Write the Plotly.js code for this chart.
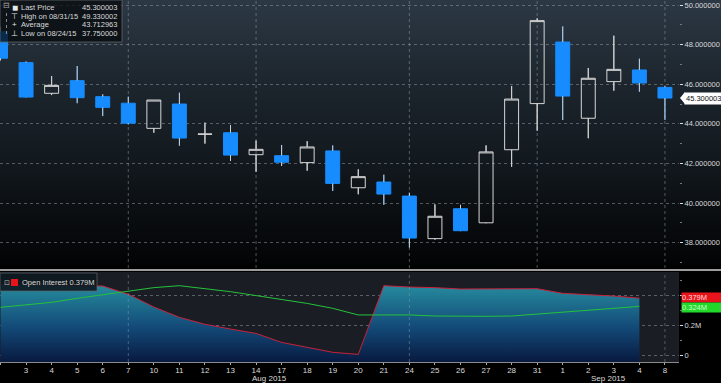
<!DOCTYPE html>
<html><head><meta charset="utf-8">
<script src="https://cdn.plot.ly/plotly-3.0.1.min.js"></script>
<style>
html,body{margin:0;padding:0;background:#000;}
#chart{width:721px;height:383px;background:linear-gradient(to bottom,#2c3844 0px,#1d262e 80px,#11171c 170px,#030405 262px,#000 268px,#000 383px);}
</style></head><body><div id="chart"></div>
<script>
// ---- data ----
const dates = ['2015-07-31','2015-08-03','2015-08-04','2015-08-05','2015-08-06','2015-08-07','2015-08-10','2015-08-11','2015-08-12','2015-08-13','2015-08-14','2015-08-17','2015-08-18','2015-08-19','2015-08-20','2015-08-21','2015-08-24','2015-08-25','2015-08-26','2015-08-27','2015-08-28','2015-08-31','2015-09-01','2015-09-02','2015-09-03','2015-09-04','2015-09-08'];
const dayLabels = ['','3','4','5','6','7','10','11','12','13','14','17','18','19','20','21','24','25','26','27','28','31','1','2','3','4','8'];
const openP  = [48.65,47.09,45.54,46.18,45.37,45.04,43.77,45.00,43.47,43.55,42.44,42.39,42.04,42.63,40.77,41.06,40.35,38.20,39.71,39.00,42.69,45.02,48.13,44.28,46.13,46.72,45.84];
const highP  = [48.90,47.15,46.41,46.92,45.49,45.37,45.20,45.57,44.06,43.94,43.15,42.93,43.12,42.91,41.70,41.43,40.52,39.93,39.91,42.91,45.91,49.33,48.92,46.82,48.45,47.29,45.90];
const lowP   = [47.20,45.33,45.45,45.04,44.39,43.97,43.55,42.89,43.00,42.12,41.58,41.87,41.63,40.61,40.44,39.91,37.75,38.15,38.58,38.98,41.83,43.65,44.19,43.27,45.67,45.62,44.20];
const closeP = [47.31,45.35,45.94,45.32,44.83,44.03,45.20,43.28,43.48,42.42,42.71,42.06,42.83,40.99,41.33,40.45,38.23,39.33,38.60,42.58,45.25,49.21,45.40,46.30,46.75,46.06,45.30];
const openInterest = [0.470,0.470,0.466,0.462,0.460,0.405,0.320,0.251,0.205,0.173,0.144,0.084,0.049,0.018,0.004,0.462,0.453,0.449,0.440,0.442,0.444,0.442,0.411,0.404,0.393,0.379];
const oiAverage    = [0.318,0.333,0.351,0.378,0.400,0.427,0.449,0.462,0.444,0.422,0.396,0.371,0.344,0.311,0.267,0.267,0.267,0.260,0.258,0.258,0.260,0.273,0.284,0.296,0.311,0.324];
const legendNames  = ['Last Price','High on 08/31/15','Average','Low on 08/24/15'];
const legendValues = ['45.300003','49.330002','43.712963','37.750000'];
const legendIcons  = ['■','⊤','+','⊥'];
const oiLegend = 'Open Interest 0.379M';
const oiTickVals = [0,0.2,0.4];
const oiTickText = ['0','0.2M','0.4M'];
const monthLabels = ['Aug 2015','Sep 2015'];
const gridDatesMain = ['2015-08-07','2015-08-14','2015-08-24','2015-08-31','2015-09-08'];
const gridDatesLow  = ['2015-08-07','2015-08-24','2015-09-08'];

// ---- helpers (pixel -> paper) ----
const W = 679, H = 362;
const px = x => x / W, py = y => 1 - y / H;
const FONT = 'Liberation Sans, Arial, sans-serif';
const TXT = '#dadada';

// wick segments outside the bodies
const wx = [], wy = [];
dates.forEach((d, i) => {
  const top = Math.max(openP[i], closeP[i]), bot = Math.min(openP[i], closeP[i]);
  wx.push(d, d, null, d, d, null);
  wy.push(highP[i], top, null, bot, lowP[i], null);
});
const oiDates = dates.slice(0, openInterest.length);
const yLow = -0.0467;

const traces = [
  {type:'candlestick', x:dates, open:openP, high:highP, low:lowP, close:closeP, xaxis:'x', yaxis:'y',
   line:{width:1}, whiskerwidth:0,
   increasing:{line:{color:'#d6d6d6', width:1}, fillcolor:'rgba(0,0,0,0)'},
   decreasing:{line:{color:'#168cff', width:1}, fillcolor:'#168cff'},
   hoverinfo:'skip', showlegend:false},
  {type:'scatter', mode:'lines', x:wx, y:wy, xaxis:'x', yaxis:'y', line:{color:'#d0d0d0', width:1},
   hoverinfo:'skip', showlegend:false},
  {type:'scatter', mode:'lines', x:oiDates, y:oiDates.map(() => yLow), xaxis:'x2', yaxis:'y2',
   line:{width:0, color:'rgba(0,0,0,0)'}, hoverinfo:'skip', showlegend:false},
  {type:'scatter', mode:'lines', x:oiDates, y:openInterest, xaxis:'x2', yaxis:'y2', fill:'tonexty',
   fillgradient:{type:'vertical', start:yLow, stop:0.47,
     colorscale:[[0,'#081a40'],[0.45,'#134a78'],[1,'#268c9e']]},
   line:{color:'#c8203a', width:1}, hoverinfo:'skip', showlegend:false},
  {type:'scatter', mode:'lines', x:oiDates, y:oiAverage, xaxis:'x2', yaxis:'y2',
   line:{color:'#25c23c', width:1}, hoverinfo:'skip', showlegend:false}
];

const shapes = [];
shapes.push({type:'rect', xref:'x2 domain', yref:'y2 domain', x0:0, x1:1, y0:0, y1:1,
  fillcolor:'#1a1e24', line:{width:0}, layer:'below'});
shapes.push({type:'line', xref:'paper', yref:'paper', x0:0, x1:721/W, y0:py(270), y1:py(270),
  line:{color:'#9c9c9c', width:2}});
gridDatesMain.forEach(d => shapes.push({type:'line', xref:'x', yref:'y domain', x0:dates.indexOf(d), x1:dates.indexOf(d), y0:0, y1:1,
  line:{color:'rgba(150,160,170,0.5)', width:1, dash:'dot'}, layer:'below'}));
gridDatesLow.forEach(d => shapes.push({type:'line', xref:'x2', yref:'y2 domain', x0:dates.indexOf(d), x1:dates.indexOf(d), y0:0, y1:1,
  line:{color:'rgba(150,160,170,0.45)', width:1, dash:'dot'}}));
shapes.push({type:'rect', xref:'paper', yref:'paper', x0:0, x1:px(122), y0:py(42), y1:py(0),
  fillcolor:'rgba(4,7,10,0.72)', line:{color:'rgba(95,100,105,0.8)', width:1}});
shapes.push({type:'rect', xref:'paper', yref:'paper', x0:0, x1:px(97), y0:py(291), y1:py(273),
  fillcolor:'rgba(14,24,32,0.9)', line:{color:'rgba(95,100,105,0.7)', width:1}});
shapes.push({type:'line', xref:'paper', yref:'paper', x0:px(6.5), x1:px(6.5), y0:py(34), y1:py(10),
  line:{color:'#8a8a8a', width:1, dash:'dot'}});
shapes.push({type:'rect', xref:'paper', yref:'paper', x0:px(11), x1:px(18), y0:py(286), y1:py(279),
  fillcolor:'#e8141c', line:{width:0}});
shapes.push({type:'path', xref:'paper', yref:'y', xsizemode:'pixel', ysizemode:'pixel',
  xanchor:1, yanchor:closeP[closeP.length-1], path:'M 1 0 L 6 -6 L 6 6 Z', fillcolor:'#ffffff', line:{width:0}});

const ann = [];
const fnt = (s, c) => ({family:FONT, size:s, color:c});
legendNames.forEach((n, i) => {
  const y = py(7 + i * 9);
  ann.push({xref:'paper', yref:'paper', x:px(19), y:y, xanchor:'left', yanchor:'middle', text:n, showarrow:false, font:fnt(7.5, TXT)});
  ann.push({xref:'paper', yref:'paper', x:px(119), y:y, xanchor:'right', yanchor:'middle', text:legendValues[i], showarrow:false, font:fnt(7.5, TXT)});
  ann.push({xref:'paper', yref:'paper', x:px(14.5), y:y, xanchor:'center', yanchor:'middle', text:legendIcons[i], showarrow:false, font:fnt(i === 0 ? 10 : 8, '#e6e6e6')});
});
ann.push({xref:'paper', yref:'paper', x:px(6.5), y:py(5), xanchor:'center', yanchor:'middle', text:'⊟', showarrow:false, font:fnt(8, '#aaaaaa')});
ann.push({xref:'paper', yref:'paper', x:px(6.5), y:py(282.5), xanchor:'center', yanchor:'middle', text:'⊡', showarrow:false, font:fnt(7, '#bbbbbb')});
ann.push({xref:'paper', yref:'paper', x:px(20), y:py(282.5), xanchor:'left', yanchor:'middle', text:oiLegend, showarrow:false, font:fnt(7.5, TXT)});
ann.push({xref:'paper', yref:'y', x:px(684), y:closeP[closeP.length-1], xanchor:'left', yanchor:'middle', text:legendValues[0],
  showarrow:false, bgcolor:'#ffffff', font:fnt(7.5, '#111111'), borderpad:1, width:35, align:'left'});
ann.push({xref:'paper', yref:'y2', x:px(680.5), y:openInterest[openInterest.length-1], xanchor:'left', yanchor:'middle', yshift:1,
  text:openInterest[openInterest.length-1].toFixed(3) + 'M', showarrow:false, bgcolor:'#e8141c', font:fnt(7.5, '#ffdede'), borderpad:0, width:39, align:'left'});
ann.push({xref:'paper', yref:'y2', x:px(680.5), y:oiAverage[oiAverage.length-1], xanchor:'left', yanchor:'middle', yshift:-1.5,
  text:oiAverage[oiAverage.length-1].toFixed(3) + 'M', showarrow:false, bgcolor:'#22d82a', font:fnt(7.5, '#c8ffc8'), borderpad:0, width:39, align:'left'});
ann.push({xref:'paper', yref:'paper', x:px(269), y:py(378), xanchor:'center', yanchor:'middle', text:monthLabels[0], showarrow:false, font:fnt(8, TXT)});
ann.push({xref:'paper', yref:'paper', x:px(608), y:py(378), xanchor:'center', yanchor:'middle', text:monthLabels[1], showarrow:false, font:fnt(8, TXT)});

const xRange = [-0.02, 26.55];
const layout = {
  width:721, height:383, margin:{l:0, r:42, t:0, b:21},
  paper_bgcolor:'rgba(0,0,0,0)', plot_bgcolor:'rgba(0,0,0,0)',
  showlegend:false, boxgap:0.22, dragmode:false,
  font:{family:FONT, size:8, color:TXT},
  xaxis:{type:'category', categoryorder:'array', categoryarray:dates, range:xRange, anchor:'y',
    showticklabels:false, showgrid:false, zeroline:false, ticks:'', rangeslider:{visible:false}, fixedrange:true},
  yaxis:{domain:[py(268), 1], range:[36.717, 50.2525], side:'right', anchor:'x', tick0:0, dtick:2, tickformat:'.6f',
    showgrid:true, gridcolor:'rgba(150,160,170,0.5)', griddash:'dot', gridwidth:1, zeroline:false,
    ticks:'outside', ticklen:3, tickcolor:'#dddddd', tickfont:fnt(7.5, TXT),
    minor:{dtick:1, ticks:'outside', ticklen:2, tickcolor:'#777777', showgrid:false}, fixedrange:true},
  xaxis2:{type:'category', categoryorder:'array', categoryarray:dates, range:xRange, anchor:'y2',
    tickmode:'array', tickvals:dates, ticktext:dayLabels, ticks:'outside', ticklen:2, tickcolor:'#aaaaaa',
    ticklabelstandoff:-2,
    showline:true, linecolor:'#8c8c8c', linewidth:1, showgrid:false, zeroline:false, tickfont:fnt(8, TXT), tickangle:0, fixedrange:true},
  yaxis2:{domain:[0, py(272)], range:[yLow, 0.5533], side:'right', anchor:'x2', tickmode:'array', tickvals:oiTickVals, ticktext:oiTickText,
    showgrid:true, gridcolor:'rgba(150,160,170,0.5)', griddash:'dot', zeroline:false,
    ticks:'outside', ticklen:3, tickcolor:'#dddddd', tickfont:fnt(7.5, TXT),
    minor:{dtick:0.1, ticks:'outside', ticklen:2, tickcolor:'#777777', showgrid:false}, fixedrange:true},
  shapes:shapes, annotations:ann
};
Plotly.newPlot('chart', traces, layout, {displayModeBar:false, staticPlot:true});
</script></body></html>
